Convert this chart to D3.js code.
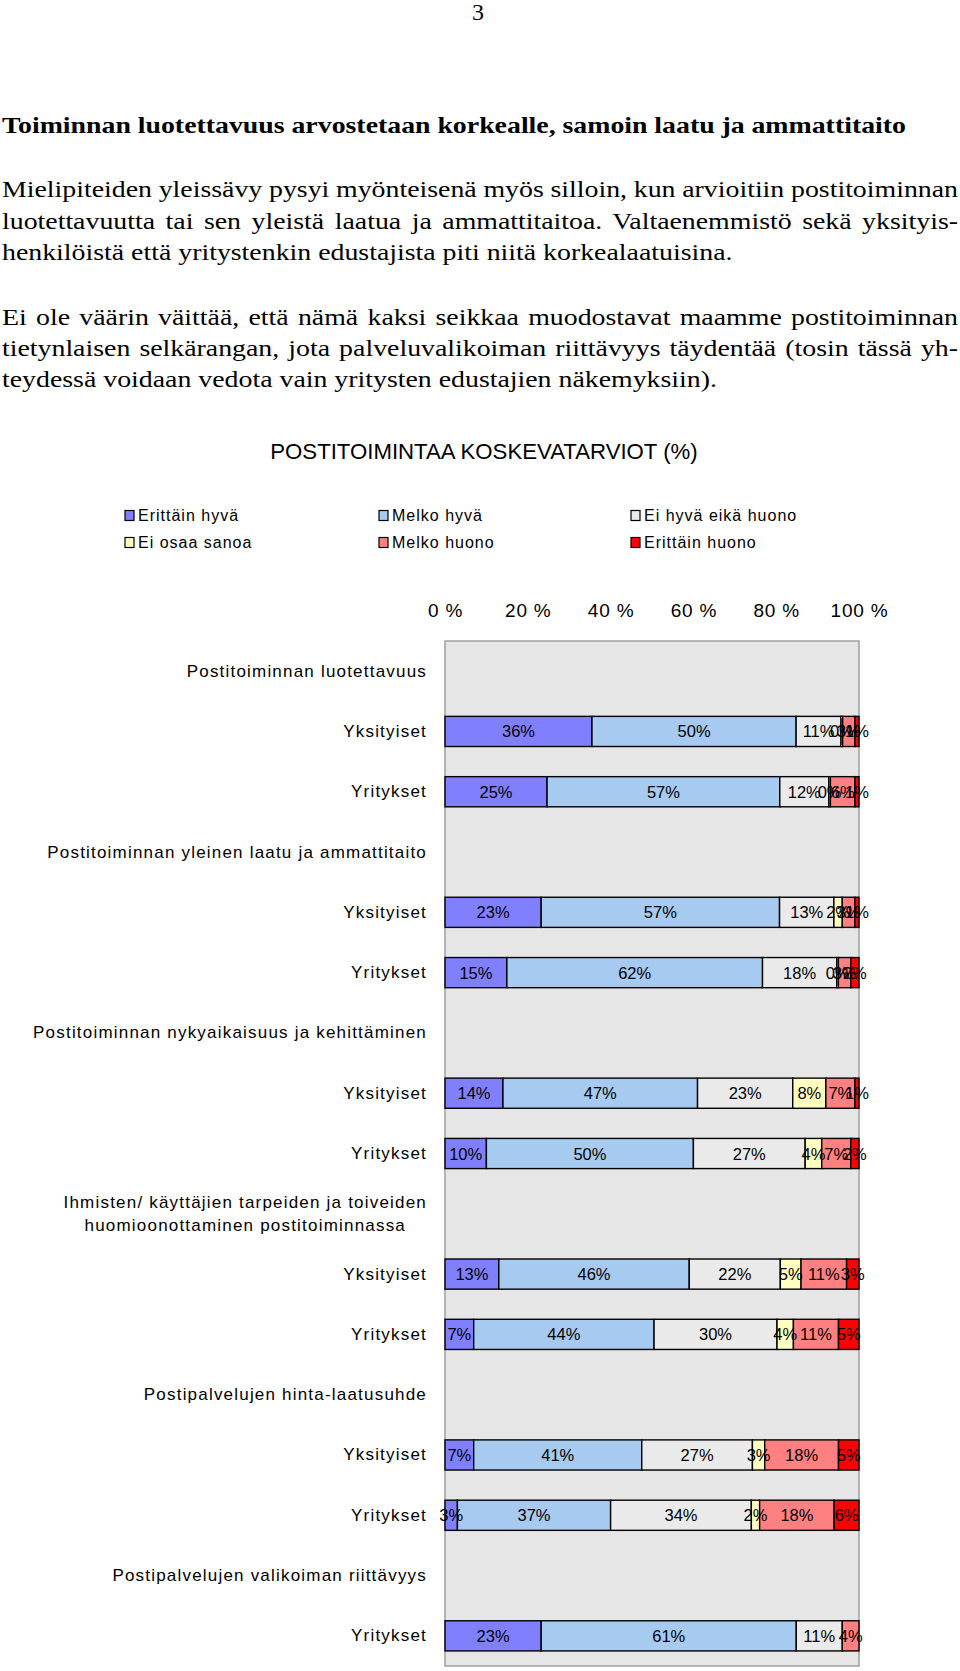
<!DOCTYPE html>
<html>
<head>
<meta charset="utf-8">
<script src="https://cdn.jsdelivr.net/npm/d3@7"></script>
<style>
  html, body { margin: 0; padding: 0; background: #fff; }
  svg { display: block; }
</style>
</head>
<body>
<svg id="page" width="960" height="1671"></svg>
<script>
// ---------- DATA ----------
const rowLabels = [
  "Postitoiminnan luotettavuus", "Yksityiset", "Yritykset",
  "Postitoiminnan yleinen laatu ja ammattitaito", "Yksityiset", "Yritykset",
  "Postitoiminnan nykyaikaisuus ja kehittäminen", "Yksityiset", "Yritykset",
  "Ihmisten/ käyttäjien tarpeiden ja toiveiden\nhuomioonottaminen postitoiminnassa", "Yksityiset", "Yritykset",
  "Postipalvelujen hinta-laatusuhde", "Yksityiset", "Yritykset",
  "Postipalvelujen valikoiman riittävyys", "Yritykset"
];
const seriesNames = ["Erittäin hyvä", "Melko hyvä", "Ei hyvä eikä huono", "Ei osaa sanoa", "Melko huono", "Erittäin huono"];
const erittainHyva   = [null, 36, 25, null, 23, 15, null, 14, 10, null, 13,  7, null,  7,  3, null, 23];
const melkoHyva      = [null, 50, 57, null, 57, 62, null, 47, 50, null, 46, 44, null, 41, 37, null, 61];
const eiHyvaEikaHuono= [null, 11, 12, null, 13, 18, null, 23, 27, null, 22, 30, null, 27, 34, null, 11];
const eiOsaaSanoa    = [null, 0.4, 0.4, null, 2, 0.4, null, 8, 4, null, 5, 4, null, 3, 2, null, 0];
const melkoHuono     = [null, 3,  6, null,  3,  3, null,  7,  7, null, 11, 11, null, 18, 18, null, 4];
const erittainHuono  = [null, 1,  1, null,  1,  2, null,  1,  2, null,  3,  5, null,  5,  6, null, 0];
const tickValues = [0, 0.2, 0.4, 0.6, 0.8, 1];
const tickLabels = ["0 %", "20 %", "40 %", "60 %", "80 %", "100 %"];
const seriesColors = ["#8080FF", "#A6CAF0", "#EAEAEA", "#FFFFC0", "#FF8080", "#FF0000"];

const chartTitle = "POSTITOIMINTAA KOSKEVATARVIOT (%)";
const pageNumber = "3";
const heading = "Toiminnan luotettavuus arvostetaan korkealle, samoin laatu ja ammattitaito";
const para1 = [
  "Mielipiteiden yleissävy pysyi myönteisenä myös silloin, kun arvioitiin postitoiminnan",
  "luotettavuutta tai sen yleistä laatua ja ammattitaitoa. Valtaenemmistö sekä yksityis-",
  "henkilöistä että yritystenkin edustajista piti niitä korkealaatuisina."
];
const para2 = [
  "Ei ole väärin väittää, että nämä kaksi seikkaa muodostavat maamme postitoiminnan",
  "tietynlaisen selkärangan, jota palveluvalikoiman riittävyys täydentää (tosin tässä yh-",
  "teydessä voidaan vedota vain yritysten edustajien näkemyksiin)."
];

// ---------- DRAW ----------
const svg = d3.select("#page");
const serif = "'Liberation Serif', 'Times New Roman', serif";
const sans = "'Liberation Sans', Arial, sans-serif";
const SX = 1.16; // horizontal stretch of the page typography

// Page text
svg.append("text").attr("x", 478).attr("y", 20).attr("text-anchor", "middle")
  .attr("font-family", serif).attr("font-size", 24).text(pageNumber);

function textLine(txt, x0, yb, opts) {
  const g = svg.append("g").attr("transform", `translate(${x0},${yb}) scale(${SX},1)`);
  const t = g.append("text").attr("x", 0).attr("y", 0)
    .attr("font-family", serif).attr("font-size", opts.size)
    .attr("font-weight", opts.bold ? "bold" : "normal")
    .attr("fill", "#000").text(txt);
  if (opts.width) {
    const w = t.node().getComputedTextLength();
    const spaces = (txt.match(/ /g) || []).length;
    if (spaces > 0) t.style("word-spacing", ((opts.width / SX - w) / spaces) + "px");
  }
  return t;
}
textLine(heading, 2, 133, {size: 24, bold: true, width: 904});
const p1y = [197, 228.5, 260];
para1.forEach((l, i) => textLine(l, 2, p1y[i], {size: 24, width: i < para1.length - 1 ? 956 : null}));
const p2y = [324.5, 355.5, 386.5];
para2.forEach((l, i) => textLine(l, 2, p2y[i], {size: 24, width: i < para2.length - 1 ? 956 : null}));

// Chart title
svg.append("text").attr("x", 484).attr("y", 459).attr("text-anchor", "middle")
  .attr("font-family", sans).attr("font-size", 22.2).text(chartTitle);

// Legend
const legX = [125, 379, 631];
const legY = [515.5, 542.5];
const leg = svg.append("g").attr("font-family", sans).attr("font-size", 16).style("letter-spacing", "1px");
seriesNames.forEach((n, i) => {
  const cx = legX[i % 3], cy = legY[Math.floor(i / 3)];
  leg.append("rect").attr("x", cx).attr("y", cy - 5).attr("width", 9).attr("height", 10)
    .attr("fill", seriesColors[i]).attr("stroke", "#000").attr("stroke-width", 1.2);
  leg.append("text").attr("x", cx + 13).attr("y", cy).attr("dominant-baseline", "central").text(n);
});

// Scales
const x = d3.scaleLinear().domain([0, 1]).range([445, 859]);
const y = d3.scaleBand().domain(d3.range(rowLabels.length)).range([641, 1666])
  .paddingInner(0.5).paddingOuter(0.25);

// Plot area
svg.append("rect").attr("x", x(0)).attr("y", 641).attr("width", x(1) - x(0)).attr("height", 1666 - 641)
  .attr("fill", "#E6E6E6").attr("stroke", "#A0A0A0").attr("stroke-width", 1.5);

// Axis (top)
const axis = svg.append("g").attr("transform", "translate(0,641)")
  .call(d3.axisTop(x).tickValues(tickValues).tickSize(0).tickPadding(24)
    .tickFormat((d, i) => tickLabels[i]));
axis.select(".domain").remove();
axis.selectAll("text").attr("font-family", sans).attr("font-size", 19).attr("fill", "#000")
  .style("letter-spacing", "0.8px");

// Data table & stack
const seriesArrays = [erittainHyva, melkoHyva, eiHyvaEikaHuono, eiOsaaSanoa, melkoHuono, erittainHuono];
const table = rowLabels.map((lab, i) => {
  const o = {row: i};
  seriesNames.forEach((n, k) => o[n] = seriesArrays[k][i]);
  return o;
}).filter(d => d[seriesNames[0]] != null);
const stacked = d3.stack().keys(seriesNames).offset(d3.stackOffsetExpand)(table);

const bars = svg.append("g");
stacked.forEach((s, k) => {
  bars.selectAll(null).data(s.filter(d => d.data[s.key] > 0)).join("rect")
    .attr("x", d => x(d[0])).attr("width", d => x(d[1]) - x(d[0]))
    .attr("y", d => y(d.data.row)).attr("height", y.bandwidth())
    .attr("fill", seriesColors[k]).attr("stroke", "#000").attr("stroke-width", 1.4);
});
const labels = svg.append("g").attr("font-family", sans).attr("font-size", 16.5)
  .attr("text-anchor", "middle").attr("fill", "#000");
stacked.forEach((s, k) => {
  labels.selectAll(null).data(s.filter(d => d.data[s.key] > 0)).join("text")
    .attr("x", d => x((d[0] + d[1]) / 2)).attr("y", d => y(d.data.row) + y.bandwidth() / 2)
    .attr("dominant-baseline", "central")
    .text(d => Math.round(d.data[s.key]) + "%");
});

// Category labels
const cat = svg.append("g").attr("font-family", sans).attr("font-size", 17).style("letter-spacing", "1.2px");
rowLabels.forEach((lab, i) => {
  const lines = lab.split("\n");
  const cy = y(i) + y.bandwidth() / 2;
  if (lines.length === 1) {
    cat.append("text").attr("x", 427).attr("y", cy).attr("text-anchor", "end")
      .attr("dominant-baseline", "central").text(lab);
  } else {
    const ts = lines.map((l, j) => cat.append("text").attr("y", cy + (j - (lines.length - 1) / 2) * 23)
      .attr("text-anchor", "middle").attr("dominant-baseline", "central").text(l));
    const maxW = d3.max(ts, t => t.node().getComputedTextLength());
    ts.forEach(t => t.attr("x", 427 - maxW / 2));
  }
});
</script>
</body>
</html>
